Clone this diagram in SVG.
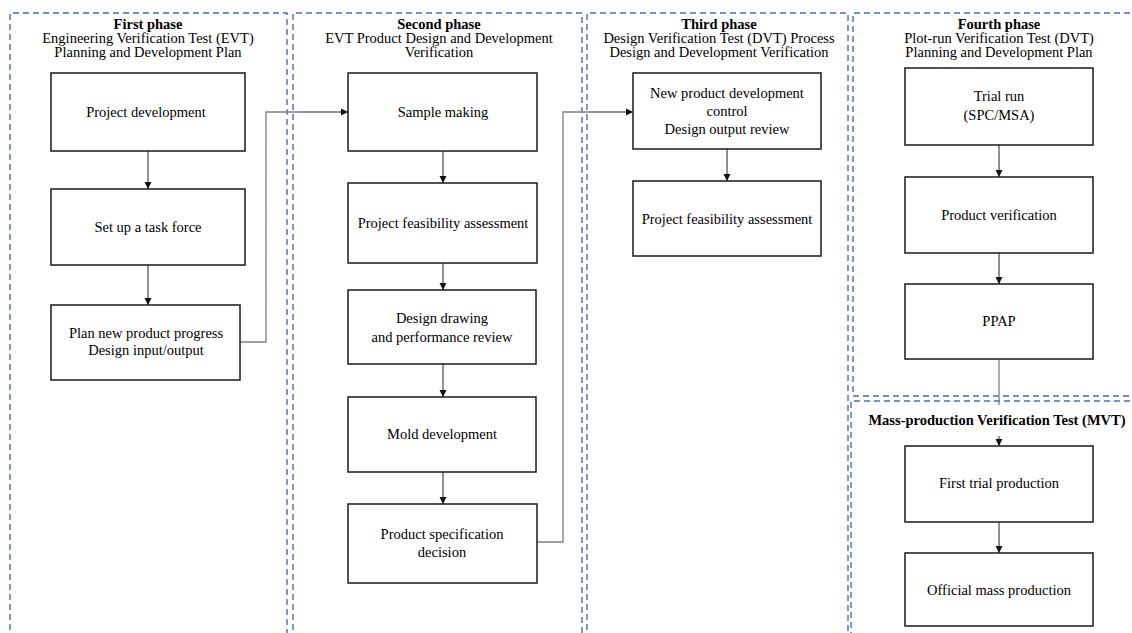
<svg xmlns="http://www.w3.org/2000/svg" width="1132" height="633" viewBox="0 0 1132 633">
<style>
.panel{fill:none;stroke:#4a6ea8;stroke-width:1.4;stroke-dasharray:6 4}
.box{fill:#fff;stroke:#1a1a1a;stroke-width:1.5}
.t{font-family:"Liberation Serif","Times New Roman",serif;font-size:14.5px;fill:#000;text-anchor:middle}
.h{font-family:"Liberation Serif","Times New Roman",serif;font-size:14.5px;fill:#000;text-anchor:middle}
.b{font-weight:bold}
.c{fill:none;stroke:#222;stroke-width:1}
.g{fill:none;stroke:#808080;stroke-width:1.3}
</style>
<defs>
<marker id="ah" markerWidth="8" markerHeight="8" refX="7" refY="4" orient="auto" markerUnits="userSpaceOnUse">
<path d="M0,0.5 L7,4 L0,7.5 Z" fill="#111"/>
</marker>
</defs>
<rect width="1132" height="633" fill="#fff"/>

<g id="panels">
<path class="panel" d="M10,640 V13 H287 V640"/>
<path class="panel" d="M293,640 V13 H582 V640"/>
<path class="panel" d="M587,640 V13 H848 V640"/>
<path class="panel" d="M1140,13 H853 V396 H1140"/>
<path class="panel" d="M1140,401 H851 V640"/>
</g>

<g id="headers">
<text class="h b" x="148" y="29">First phase</text>
<text class="h" x="148" y="43">Engineering Verification Test (EVT)</text>
<text class="h" x="148" y="57">Planning and Development Plan</text>
<text class="h b" x="439" y="29">Second phase</text>
<text class="h" x="439" y="43">EVT Product Design and Development</text>
<text class="h" x="439" y="57">Verification</text>
<text class="h b" x="719" y="29">Third phase</text>
<text class="h" x="719" y="43">Design Verification Test (DVT) Process</text>
<text class="h" x="719" y="57">Design and Development Verification</text>
<text class="h b" x="999" y="29">Fourth phase</text>
<text class="h" x="999" y="43">Plot-run Verification Test (DVT)</text>
<text class="h" x="999" y="57">Planning and Development Plan</text>
<text class="h b" x="997" y="425">Mass-production Verification Test (MVT)</text>
</g>

<g id="connectors">
<line class="c" x1="148" y1="151" x2="148" y2="189" marker-end="url(#ah)"/>
<line class="c" x1="148" y1="265" x2="148" y2="305" marker-end="url(#ah)"/>
<polyline class="g" points="240,342 266,342 266,112 300,112"/>
<line class="c" x1="300" y1="112" x2="348" y2="112" marker-end="url(#ah)"/>
<line class="c" x1="443" y1="151" x2="443" y2="183" marker-end="url(#ah)"/>
<line class="c" x1="443" y1="263" x2="443" y2="290" marker-end="url(#ah)"/>
<line class="c" x1="443" y1="364" x2="443" y2="397" marker-end="url(#ah)"/>
<line class="c" x1="443" y1="472" x2="443" y2="504" marker-end="url(#ah)"/>
<polyline class="g" points="537,542 563,542 563,112 590,112"/>
<line class="c" x1="590" y1="112" x2="633" y2="112" marker-end="url(#ah)"/>
<line class="c" x1="727" y1="149" x2="727" y2="181" marker-end="url(#ah)"/>
<line class="c" x1="999" y1="145" x2="999" y2="177" marker-end="url(#ah)"/>
<line class="c" x1="999" y1="253" x2="999" y2="284" marker-end="url(#ah)"/>
<line class="g" x1="999" y1="359" x2="999" y2="405"/>
<line class="c" x1="999" y1="436" x2="999" y2="446" marker-end="url(#ah)"/>
<line class="c" x1="999" y1="522" x2="999" y2="553" marker-end="url(#ah)"/>
</g>

<g id="n1"><rect class="box" x="51" y="73" width="194" height="78"/><text class="t" x="146" y="117">Project development</text></g>
<g id="n2"><rect class="box" x="51" y="189" width="194" height="76"/><text class="t" x="148" y="232">Set up a task force</text></g>
<g id="n3"><rect class="box" x="51" y="305" width="189" height="75"/><text class="t" x="146" y="338">Plan new product progress</text><text class="t" x="146" y="355">Design input/output</text></g>

<g id="n4"><rect class="box" x="348" y="73" width="189" height="78"/><text class="t" x="443" y="117">Sample making</text></g>
<g id="n5"><rect class="box" x="348" y="183" width="189" height="80"/><text class="t" x="443" y="228">Project feasibility assessment</text></g>
<g id="n6"><rect class="box" x="348" y="290" width="188" height="74"/><text class="t" x="442" y="323">Design drawing</text><text class="t" x="442" y="342">and performance review</text></g>
<g id="n7"><rect class="box" x="348" y="397" width="188" height="75"/><text class="t" x="442" y="439">Mold development</text></g>
<g id="n8"><rect class="box" x="348" y="504" width="189" height="79"/><text class="t" x="442" y="539">Product specification</text><text class="t" x="442" y="557">decision</text></g>

<g id="n9"><rect class="box" x="633" y="73" width="188" height="76"/><text class="t" x="727" y="98">New product development</text><text class="t" x="727" y="116">control</text><text class="t" x="727" y="134">Design output review</text></g>
<g id="n10"><rect class="box" x="633" y="181" width="188" height="75"/><text class="t" x="727" y="224">Project feasibility assessment</text></g>

<g id="n11"><rect class="box" x="905" y="68" width="188" height="77"/><text class="t" x="999" y="101">Trial run</text><text class="t" x="999" y="120">(SPC/MSA)</text></g>
<g id="n12"><rect class="box" x="905" y="177" width="188" height="76"/><text class="t" x="999" y="220">Product verification</text></g>
<g id="n13"><rect class="box" x="905" y="284" width="188" height="75"/><text class="t" x="999" y="326">PPAP</text></g>
<g id="n14"><rect class="box" x="905" y="446" width="188" height="76"/><text class="t" x="999" y="488">First trial production</text></g>
<g id="n15"><rect class="box" x="905" y="553" width="188" height="73"/><text class="t" x="999" y="595">Official mass production</text></g>
</svg>
